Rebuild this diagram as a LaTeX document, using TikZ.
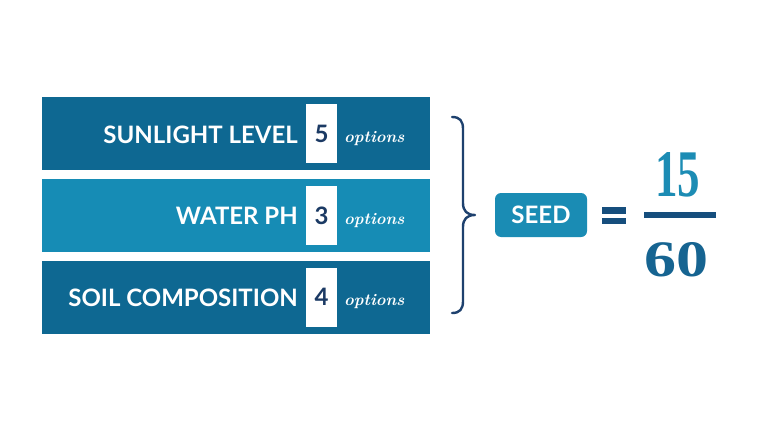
\documentclass[tikz,border=0pt]{standalone}
\usepackage{fontspec}
\usepackage{graphicx}
\setmainfont{Lato}
\newfontfamily\labfont{Lato}[UprightFont=* Bold]
\newfontfamily\numfont{Liberation Serif}
\newfontfamily\optfont{Latin Modern Roman}
\definecolor{bardark}{RGB}{14,104,146}
\definecolor{barlight}{RGB}{22,140,181}
\definecolor{seedc}{RGB}{26,140,180}
\definecolor{navy}{RGB}{27,58,100}
\definecolor{bracec}{RGB}{30,65,110}
\definecolor{eqc}{RGB}{22,78,125}
\definecolor{topc}{RGB}{28,140,180}
\definecolor{botc}{RGB}{22,100,145}
\begin{document}
\begin{tikzpicture}[x=1pt,y=-1pt,
  bar/.style={fill=#1,draw=none,minimum width=388pt,minimum height=73pt,anchor=north west,inner sep=0pt},
  numbox/.style={fill=white,draw=none,minimum width=31pt,minimum height=59pt,inner sep=0pt,
     text=navy,font=\labfont\fontsize{24}{25}\selectfont},
  lab/.style={anchor=east,inner sep=0pt,text=white,font=\labfont\fontsize{24}{25}\selectfont},
  opt/.style={anchor=base west,inner sep=0pt,text=white,font=\optfont\bfseries\itshape\fontsize{16.5}{18}\selectfont},
]
\useasboundingbox (0,0) rectangle (768,431);
\fill[white] (0,0) rectangle (768,431);
% bars
\node[bar=bardark] (b1) at (42,97) {};
\node[bar=barlight] (b2) at (42,179) {};
\node[bar=bardark] (b3) at (42,261) {};
% number boxes
\node[numbox] (n1) at (321.5,133.5) {5};
\node[numbox] (n2) at (321.5,215.5) {3};
\node[numbox] (n3) at (321.5,297) {4};
% labels
\node[lab] (l1) at (298,134.5) {SUNLIGHT LEVEL};
\node[lab] (l2) at (298,216) {WATER PH};
\node[lab] (l3) at (298,297.5) {SOIL COMPOSITION};
% options
\node[opt] (o1) at (344,142) {options};
\node[opt] (o2) at (344,224) {options};
\node[opt] (o3) at (344,305.5) {options};
% brace
\coordinate (bt) at (452,117);
\coordinate (bb) at (452,313);
\coordinate (tip) at (475,215);
\draw[bracec,line width=2.4pt,line cap=round,line join=round]
  (bt) .. controls (460,117) and (463,121) .. (463,129)
  -- (463,203) .. controls (463,211) and (467,215) .. (tip)
  .. controls (467,215) and (463,219) .. (463,227)
  -- (463,301) .. controls (463,309) and (460,313) .. (bb);
% seed
\node[fill=seedc,rounded corners=6pt,minimum width=92pt,minimum height=44pt,inner sep=0pt,
  text=white,font=\labfont\fontsize{24}{25}\selectfont] (seed) at (541,215) {SEED};
% equals
\fill[eqc] (602,207) rectangle (626,213.5);
\fill[eqc] (602,217.5) rectangle (626,224);
% fraction
\fill[eqc] (644,212) rectangle (716,218);
\node[inner sep=0pt,text=topc,font=\numfont\bfseries] (num) at (677.5,175) {\resizebox{45pt}{44pt}{15}};
\node[inner sep=0pt,text=botc,font=\numfont\bfseries] (den) at (676,260) {\resizebox{64pt}{34pt}{60}};
\end{tikzpicture}
\end{document}
